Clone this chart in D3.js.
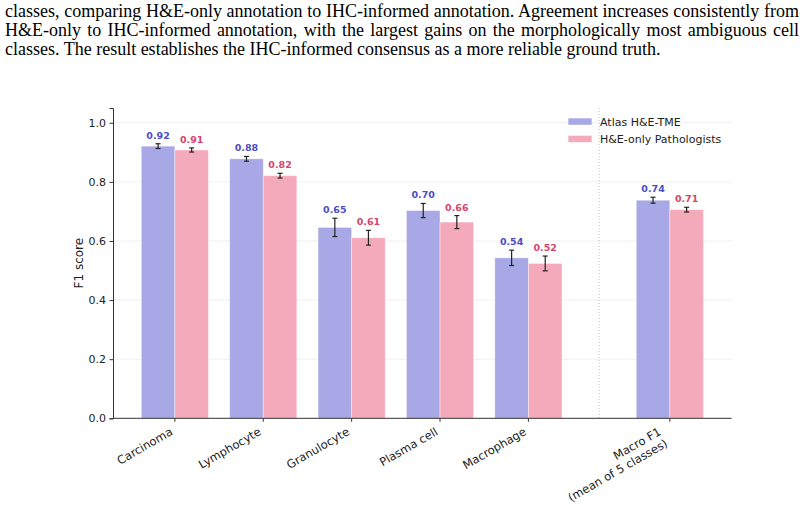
<!DOCTYPE html>
<html>
<head>
<meta charset="utf-8">
<script src="https://cdn.jsdelivr.net/npm/d3@7"></script>
<style>
  body { margin: 0; background: #fff; }
  svg { display: block; }
</style>
</head>
<body>
<svg id="chart" width="804" height="509"></svg>
<script>
// caption lines above the figure (justified paragraph)
var captionLines = [
    "classes, comparing H&E-only annotation to IHC-informed annotation. Agreement increases consistently from",
    "H&E-only to IHC-informed annotation, with the largest gains on the morphologically most ambiguous cell",
    "classes. The result establishes the IHC-informed consensus as a more reliable ground truth."
];

var categories = ["Carcinoma", "Lymphocyte", "Granulocyte", "Plasma cell", "Macrophage", "Macro F1\n(mean of 5 classes)"];
var slots = [0, 1, 2, 3, 4, 5.6]; // macro F1 sits a bit apart
var atlas = [0.921, 0.878, 0.646, 0.703, 0.543, 0.738];
var atlasErr = [0.008, 0.008, 0.031, 0.024, 0.026, 0.010];
var pathol = [0.908, 0.821, 0.611, 0.664, 0.524, 0.706];
var patholErr = [0.007, 0.008, 0.025, 0.022, 0.025, 0.008];
var seriesNames = ["Atlas H&E-TME", "H&E-only Pathologists"];
var yTicks = [0.0, 0.2, 0.4, 0.6, 0.8, 1.0];

var svg = d3.select("#chart");

// caption
var cap = svg.append("g")
    .style("font-family", "'Liberation Serif', 'Times New Roman', serif")
    .style("font-size", "18px")
    .attr("fill", "#000");
captionLines.forEach(function (line, i) {
    var t = cap.append("text").attr("x", 5).attr("y", 17 + i * 19).text(line);
    if (i < 2) {
        // stretch word spacing to fake justification
        var natural = t.node().getComputedTextLength();
        var spaces = line.split(" ").length - 1;
        t.style("word-spacing", ((794 - natural) / spaces) + "px");
    }
});

var x = d3.scaleLinear().domain([-0.7, 6.3]).range([113, 731.7]);
var y = d3.scaleLinear().domain([0, 1.05]).range([418.3, 108]);
var bw = 0.38;
var colors = ["#a8a8e6", "#f4aabb"];
var labelColors = ["#4d4dc6", "#d6456c"];

var g = svg.append("g").style("font-family", "'DejaVu Sans', sans-serif");

// grid
g.selectAll(".grid").data(yTicks.slice(1)).enter().append("line")
    .attr("x1", x(-0.7)).attr("x2", x(6.3))
    .attr("y1", function (d) { return y(d); })
    .attr("y2", function (d) { return y(d); })
    .attr("stroke", "#ececec").attr("stroke-width", 0.8);

// separator before the macro average
g.append("line")
    .attr("x1", x(4.8)).attr("x2", x(4.8))
    .attr("y1", y(1.05)).attr("y2", y(0))
    .attr("stroke", "#bdbdbd").attr("stroke-width", 1)
    .attr("stroke-dasharray", "1,2");

var series = [
    { vals: atlas, err: atlasErr, off: -bw / 2 },
    { vals: pathol, err: patholErr, off: bw / 2 }
];

series.forEach(function (s, si) {
    var data = s.vals.map(function (v, i) { return { v: v, e: s.err[i], c: slots[i] + s.off }; });

    g.selectAll(".bar" + si).data(data).enter().append("rect")
        .attr("x", function (d) { return x(d.c - bw / 2); })
        .attr("width", x(bw) - x(0))
        .attr("y", function (d) { return y(d.v); })
        .attr("height", function (d) { return y(0) - y(d.v); })
        .attr("fill", colors[si])
        .attr("stroke", "#fff").attr("stroke-opacity", 0.5).attr("stroke-width", 0.8);

    var eb = g.selectAll(".err" + si).data(data).enter().append("g")
        .attr("stroke", "#222").attr("stroke-width", 1.2);
    eb.append("line")
        .attr("x1", function (d) { return x(d.c); }).attr("x2", function (d) { return x(d.c); })
        .attr("y1", function (d) { return y(d.v - d.e); }).attr("y2", function (d) { return y(d.v + d.e); });
    eb.append("line")
        .attr("x1", function (d) { return x(d.c) - 2.5; }).attr("x2", function (d) { return x(d.c) + 2.5; })
        .attr("y1", function (d) { return y(d.v + d.e); }).attr("y2", function (d) { return y(d.v + d.e); });
    eb.append("line")
        .attr("x1", function (d) { return x(d.c) - 2.5; }).attr("x2", function (d) { return x(d.c) + 2.5; })
        .attr("y1", function (d) { return y(d.v - d.e); }).attr("y2", function (d) { return y(d.v - d.e); });

    g.selectAll(".lab" + si).data(data).enter().append("text")
        .attr("x", function (d) { return x(d.c); })
        .attr("y", function (d) { return y(d.v + d.e) - 5; })
        .attr("text-anchor", "middle")
        .style("font-size", "9.5px").style("font-weight", "bold")
        .attr("fill", labelColors[si])
        .text(function (d) { return d.v.toFixed(2); });
});

// y axis
var yAxis = g.append("g").attr("transform", "translate(" + x(-0.7) + ",0)")
    .call(d3.axisLeft(y).tickValues(yTicks).tickFormat(d3.format(".1f")).tickSizeOuter(0).tickSize(3.5).tickPadding(3.5));
yAxis.select(".domain").attr("stroke", "#333");
yAxis.selectAll(".tick line").attr("stroke", "#333");
yAxis.selectAll("text").style("font-size", "11px").style("font-family", "'DejaVu Sans', sans-serif").attr("fill", "#222");

// x axis
var xAxis = g.append("g").attr("transform", "translate(0," + y(0) + ")");
xAxis.append("line").attr("x1", x(-0.7)).attr("x2", x(6.3)).attr("stroke", "#333");
xAxis.selectAll(".tk").data(slots).enter().append("line")
    .attr("x1", function (d) { return x(d); }).attr("x2", function (d) { return x(d); })
    .attr("y1", 0).attr("y2", 3.5).attr("stroke", "#333");

var fs = 11.5, lh = 13.5;
categories.forEach(function (c, i) {
    var lines = c.split("\n");
    var n = lines.length;
    var px = x(slots[i]) - 0.5 * ((n - 1) * lh + 2.7);
    var py = 6.5 + 0.866 * 10.7;
    var t = xAxis.append("text")
        .attr("transform", "translate(" + px + "," + py + ") rotate(-30)")
        .attr("text-anchor", "end")
        .style("font-size", fs + "px")
        .attr("fill", "#222");
    lines.forEach(function (l, j) {
        t.append("tspan").attr("x", 0).attr("y", j * lh).text(l);
    });
});

// y label
g.append("text")
    .attr("transform", "translate(83," + ((y(0) + y(1.05)) / 2) + ") rotate(-90)")
    .attr("text-anchor", "middle")
    .style("font-size", "12px").attr("fill", "#222")
    .text("F1 score");

// legend
var leg = g.append("g").attr("transform", "translate(568.3,118.3)");
seriesNames.forEach(function (name, i) {
    leg.append("rect").attr("x", 0).attr("y", i * 17.4).attr("width", 23.4).attr("height", 6.5)
        .attr("fill", colors[i]);
    leg.append("text").attr("x", 31.7).attr("y", i * 17.4 + 7.5)
        .style("font-size", "11px").attr("fill", "#222").text(name);
});
</script>
</body>
</html>
